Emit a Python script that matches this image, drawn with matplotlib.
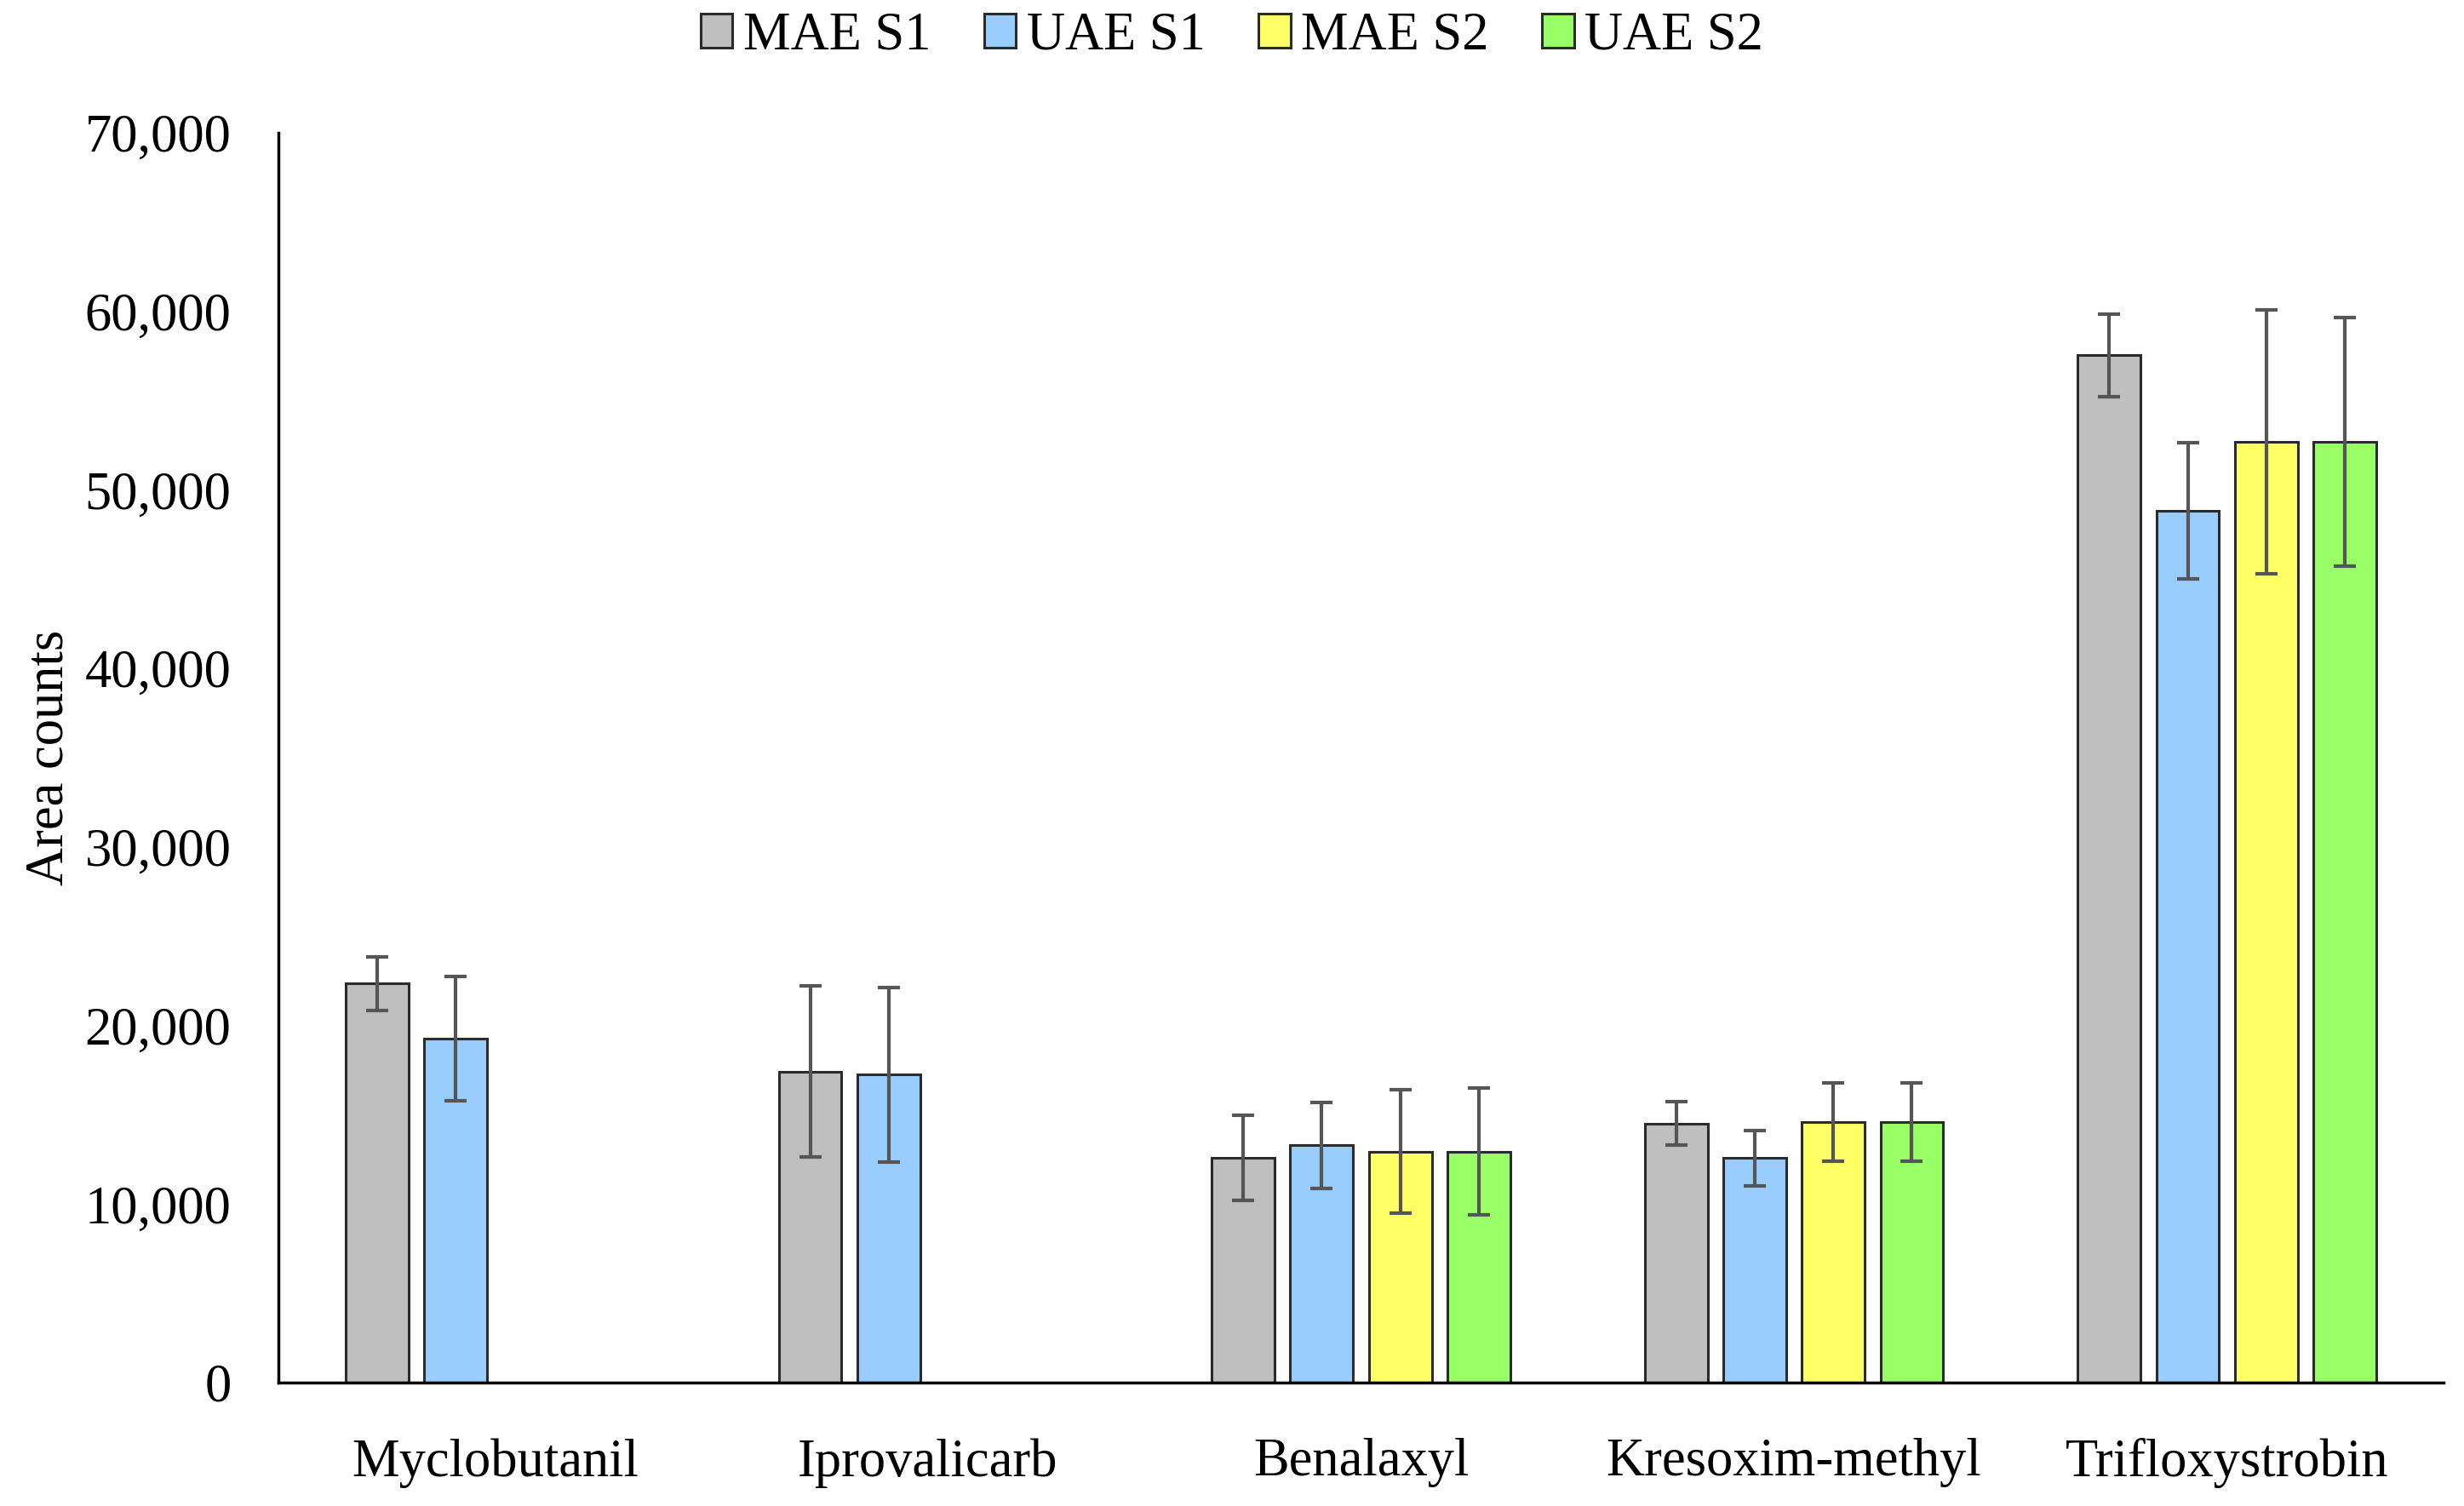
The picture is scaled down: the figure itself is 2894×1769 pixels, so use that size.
import numpy as np
import matplotlib
matplotlib.use("Agg")
import matplotlib.pyplot as plt
from matplotlib.ticker import FuncFormatter, MultipleLocator

plt.rcParams['font.family'] = ['Liberation Serif', 'DejaVu Serif']

categories = ["Myclobutanil", "Iprovalicarb", "Benalaxyl", "Kresoxim-methyl", "Trifloxystrobin"]
series_names = ["MAE S1", "UAE S1", "MAE S2", "UAE S2"]

mae_s1 = [22340, 17410, 12580, 14510, 57520]
uae_s1 = [19260, 17240, 13280, 12580, 48810]
mae_s2 = [np.nan, np.nan, 12930, 14600, 52680]
uae_s2 = [np.nan, np.nan, 12930, 14600, 52680]

mae_s1_err = [1500, 4800, 2400, 1200, 2300]
uae_s1_err = [3500, 4900, 2400, 1550, 3800]
mae_s2_err = [np.nan, np.nan, 3450, 2200, 7400]
uae_s2_err = [np.nan, np.nan, 3550, 2200, 6950]

values = [mae_s1, uae_s1, mae_s2, uae_s2]
errors = [mae_s1_err, uae_s1_err, mae_s2_err, uae_s2_err]
colors = ["#BFBFBF", "#99CCFF", "#FFFF66", "#99FF66"]

fig = plt.figure(figsize=(28.94, 17.69), dpi=100)
ax = fig.add_axes([0.113, 0.082, 0.8787, 0.830])

x = np.arange(len(categories))
step = 0.1814
width = 0.145
for j, (vals, errs, col, name) in enumerate(zip(values, errors, colors, series_names)):
    pos = x + (j - 1.5) * step
    ax.bar(pos, vals, width=width, color=col, edgecolor="#2b2b2b", linewidth=2.2,
           label=name, zorder=2)
    ax.errorbar(pos, vals, yerr=errs, fmt='none', ecolor="#555555", elinewidth=3,
                capsize=9.5, capthick=3, zorder=3)

ax.set_xlim(-0.5, len(categories) - 0.5)
ax.set_ylim(0, 70000)
ax.yaxis.set_major_locator(MultipleLocator(10000))
ax.yaxis.set_major_formatter(FuncFormatter(lambda v, p: f"{int(v):,}"))
ax.set_xticks(x)
ax.set_xticklabels(categories)
ax.tick_params(axis='both', length=0, labelsize=45)
ax.tick_params(axis='y', pad=40)
ax.tick_params(axis='x', pad=47)

for s in ["top", "right"]:
    ax.spines[s].set_visible(False)
for s in ["left", "bottom"]:
    ax.spines[s].set_linewidth(2.5)
    ax.spines[s].set_color("black")

ax.set_ylabel("Area counts", fontsize=45)
ax.yaxis.set_label_coords(-0.094, 0.5)

handles, labels = ax.get_legend_handles_labels()
fig.legend(handles, labels, loc="upper center", bbox_to_anchor=(0.5, 1.024), ncol=4,
           frameon=False, fontsize=45, handlelength=0.6, handleheight=0.6,
           handletextpad=0.2, columnspacing=1.0)

fig.savefig("out.png", dpi=100, facecolor="white")
